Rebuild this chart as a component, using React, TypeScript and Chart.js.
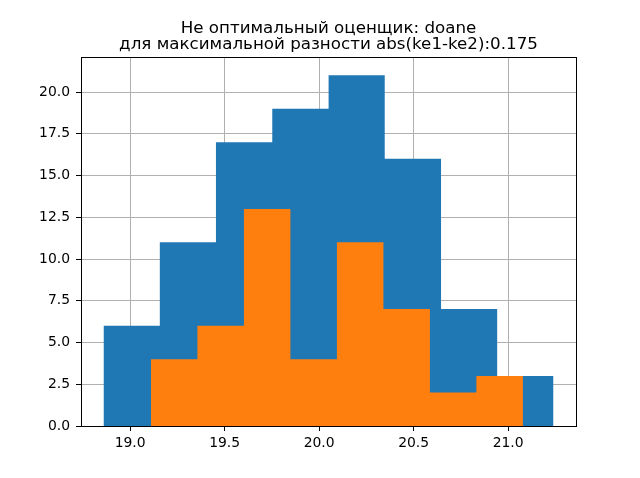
import React, { useEffect, useRef } from "react";
import { Chart, registerables } from "chart.js";

Chart.register(...registerables);

const titleLines = ["Не оптимальный оценщик: doane", "для максимальной разности abs(ke1-ke2):0.175"];

const blueEdges = [18.859, 19.157, 19.454, 19.752, 20.05, 20.347, 20.645, 20.942, 21.24];
const blueCounts = [6, 11, 17, 19, 21, 16, 7, 3];

const orangeEdges = [19.11, 19.356, 19.602, 19.848, 20.094, 20.34, 20.586, 20.832, 21.078];
const orangeCounts = [4, 6, 13, 4, 11, 7, 2, 3];

const xTicks = [19.0, 19.5, 20.0, 20.5, 21.0];
const yTicks = [0, 2.5, 5, 7.5, 10, 12.5, 15, 17.5, 20];

const xMin = 18.74;
const xMax = 21.359;
const yMax = 22.1;

function stepPoints(edges: number[], counts: number[]) {
  return edges.map((e, i) => ({ x: e, y: counts[Math.min(i, counts.length - 1)] }));
}

const FONT = "'DejaVu Sans', sans-serif";

export default function App() {
  const ref = useRef<HTMLCanvasElement>(null);
  useEffect(() => {
    const frame = {
      id: "frame",
      afterDraw(chart: any) {
        const { ctx, chartArea: a } = chart;
        ctx.save();
        ctx.strokeStyle = "#000";
        ctx.lineWidth = 1;
        ctx.strokeRect(Math.round(a.left) + 0.5, Math.round(a.top) + 0.5, Math.round(a.right - a.left), Math.round(a.bottom - a.top));
        ctx.fillStyle = "#000";
        ctx.font = `16.7px ${FONT}`;
        ctx.textAlign = "center";
        ctx.textBaseline = "alphabetic";
        const cx = (a.left + a.right) / 2;
        ctx.fillText(titleLines[0], cx, 32.5);
        ctx.fillText(titleLines[1], cx, 48.5);
        ctx.restore();
      },
    };
    const chart = new Chart(ref.current!, {
      type: "line",
      data: {
        datasets: [
          {
            data: stepPoints(orangeEdges, orangeCounts),
            stepped: "before",
            fill: "origin",
            backgroundColor: "#ff7f0e",
            borderColor: "rgba(0,0,0,0)",
            borderWidth: 0,
            pointRadius: 0,
            order: 1,
          },
          {
            data: stepPoints(blueEdges, blueCounts),
            stepped: "before",
            fill: "origin",
            backgroundColor: "#1f77b4",
            borderColor: "rgba(0,0,0,0)",
            borderWidth: 0,
            pointRadius: 0,
            order: 2,
          },
        ],
      },
      options: {
        animation: false,
        responsive: false,
        layout: { padding: { left: 0, right: 64, top: 57, bottom: 0 } },
        plugins: { legend: { display: false }, tooltip: { enabled: false }, title: { display: false } },
        scales: {
          x: {
            type: "linear",
            min: xMin,
            max: xMax,
            z: 1,
            border: { display: false },
            grid: { color: "#b0b0b0", lineWidth: 1, tickColor: "#000", tickLength: 5, drawTicks: true },
            afterBuildTicks: (s: any) => {
              s.ticks = xTicks.map((v) => ({ value: v }));
            },
            afterFit: (s: any) => {
              s.height = 52;
            },
            ticks: {
              color: "#000",
              padding: 4,
              font: { family: FONT, size: 13.9 },
              callback: (v: any) => Number(v).toFixed(1),
              maxRotation: 0,
              autoSkip: false,
            },
          },
          y: {
            type: "linear",
            min: 0,
            max: yMax,
            z: 1,
            border: { display: false },
            grid: { color: "#b0b0b0", lineWidth: 1, tickColor: "#000", tickLength: 5, drawTicks: true },
            afterBuildTicks: (s: any) => {
              s.ticks = yTicks.map((v) => ({ value: v }));
            },
            afterFit: (s: any) => {
              s.width = 81;
            },
            ticks: {
              color: "#000",
              padding: 6,
              font: { family: FONT, size: 13.9 },
              callback: (v: any) => Number(v).toFixed(1),
              autoSkip: false,
            },
          },
        },
      },
      plugins: [frame],
    } as any);
    return () => chart.destroy();
  }, []);
  return (
    <div style={{ position: "absolute", left: 0, top: 0, width: 640, height: 478, background: "#fff" }}>
      <canvas ref={ref} width={640} height={478} />
    </div>
  );
}
